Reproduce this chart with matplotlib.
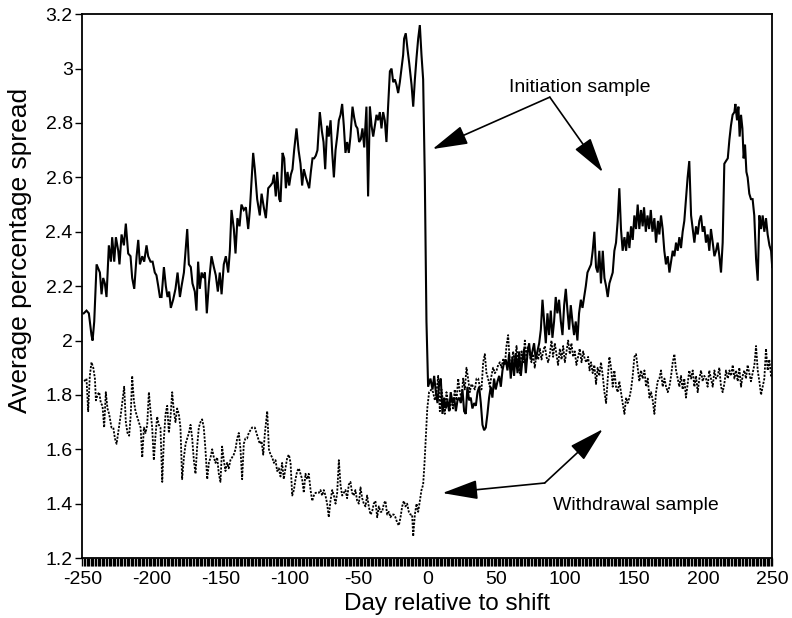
import matplotlib
matplotlib.use("Agg")
import matplotlib.pyplot as plt
from matplotlib.patches import FancyArrowPatch

# ---------------- data ----------------
init_days = [
    -249.0, -247.0, -245.3, -243.4, -242.6, -241.4, -239.7, -237.3, -236.1, -234.9,
    -233.7, -232.5, -230.8, -229.3, -228.4, -226.9, -225.7, -224.0, -223.1, -221.6,
    -219.9, -218.5, -216.8, -215.1, -213.9, -212.4, -210.7, -209.5, -208.3, -206.6,
    -205.2, -203.5, -202.3, -200.6, -199.1, -197.5, -196.3, -195.0, -193.8, -192.6,
    -190.9, -189.5, -188.3, -187.1, -185.9, -184.2, -182.5, -181.0, -179.3, -178.1,
    -176.4, -175.2, -174.0, -172.8, -171.4, -170.2, -168.5, -167.3, -166.1, -164.9,
    -163.6, -162.2, -161.2, -159.8, -158.3, -156.4, -154.7, -153.3, -151.8, -150.4,
    -149.1, -147.5, -146.0, -144.3, -143.1, -141.9, -140.2, -139.0, -137.6, -136.1,
    -134.7, -133.0, -131.5, -129.8, -128.6,
    -126.2, -125.0, -123.3, -121.4, -120.1, -118.5, -117.0, -115.3, -113.6, -112.2,
    -111.2, -109.8, -108.8, -107.3, -106.4, -104.9, -103.7, -102.5, -101.3, -100.1,
    -98.9, -97.7, -96.5, -94.8, -93.3, -91.9, -90.7, -89.5, -88.0, -86.8,
    -85.6, -84.4, -83.2, -82.0, -80.8, -79.6, -77.9, -76.4, -75.2, -74.0,
    -72.6, -71.4, -70.1, -68.9, -67.7, -66.5, -65.3, -64.1, -62.9, -61.7,
    -60.5, -59.3, -58.1, -56.9, -55.7, -54.2, -53.0, -51.8, -50.6, -49.4,
    -48.2, -47.0, -45.7, -44.1, -42.9, -41.6, -40.4, -39.2, -38.0, -36.8,
    -35.6, -34.4, -33.2, -32.0, -30.8, -29.6, -28.4, -27.1, -25.9, -24.7,
    -23.5, -22.3, -21.1, -19.9, -18.7, -17.5, -16.8, -15.6, -14.3, -13.1,
    -11.4, -10.2, -9.0, -7.8, -6.6, -5.4, -4.2, -3.0, -1.8, -0.6, 0.6,
    2.3, 3.8, 5.0, 6.2, 7.4, 8.6, 9.8, 11.0, 12.2, 13.4,
    14.6, 15.8, 17.0, 18.3, 19.5, 20.7, 21.9, 23.1, 24.3, 25.5,
    26.7, 27.9, 29.1, 30.3, 31.5, 32.7, 34.0, 35.2, 36.4, 37.6,
    38.8, 40.0, 41.2, 42.4, 43.6, 44.8, 46.0, 47.2, 48.4, 49.6,
    50.9, 52.1, 53.3, 54.5, 55.7, 56.9, 58.1, 59.3, 60.5, 61.7,
    62.9, 64.1, 65.4, 66.6, 67.8, 69.0, 70.2, 71.4, 72.6, 73.8,
    75.0, 76.2, 77.4, 78.6, 79.8, 81.1, 82.3, 83.5, 84.7, 85.9,
    87.1, 88.3, 89.5, 90.7, 91.9, 93.1, 94.3, 95.5, 96.8, 98.0,
    99.2, 100.4, 101.6, 102.8, 104.0, 105.2, 106.4, 107.6, 108.8, 110.0,
    111.3, 112.5, 113.7, 114.9, 116.1,
    118.7, 119.9, 121.1, 122.3, 123.5, 124.7, 125.9, 127.2, 128.4, 129.6,
    130.8, 132.0, 133.2, 134.4, 135.6, 136.8, 138.0, 139.2, 140.4, 141.6,
    142.9, 144.1, 145.3, 146.5, 147.7, 148.9, 150.1, 151.3, 152.5, 153.7,
    154.9, 156.1, 157.1, 158.4, 159.6, 160.8, 162.0, 163.2, 164.6, 165.8,
    167.2, 168.2, 169.4, 170.6, 171.8, 173.0, 174.3, 175.5, 176.7, 177.9,
    179.1, 180.3, 181.5, 182.7, 183.9, 185.1, 186.3, 187.5, 188.7, 189.9,
    191.2, 192.4, 193.6, 194.8, 196.0, 197.2, 198.4, 199.6, 200.8, 202.0,
    203.2, 204.4, 205.6, 206.9, 208.1, 209.3, 210.5, 211.7, 212.9, 214.1,
    215.3, 216.5, 217.8, 219.0, 220.1, 221.3, 222.6, 223.3, 224.5, 225.5,
    226.4, 227.4, 228.4, 229.3, 230.3, 231.3, 232.2, 233.4, 234.6, 235.8,
    237.0, 238.3, 239.5, 240.7, 241.9, 243.1, 244.3, 245.5, 246.7, 248.0,
    249.2, 250.0,
]
init_vals = [
    2.10, 2.11, 2.10, 2.02, 2.00, 2.07, 2.28, 2.25, 2.17, 2.23,
    2.21, 2.16, 2.35, 2.29, 2.38, 2.29, 2.38, 2.33, 2.28, 2.39,
    2.35, 2.43, 2.32, 2.31, 2.23, 2.19, 2.31, 2.37, 2.28, 2.31,
    2.29, 2.35, 2.31, 2.29, 2.29, 2.25, 2.24, 2.20, 2.16, 2.16,
    2.27, 2.20, 2.16, 2.18, 2.12, 2.15, 2.19, 2.25, 2.16, 2.20,
    2.25, 2.33, 2.41, 2.28, 2.27, 2.21, 2.18, 2.11, 2.29, 2.19,
    2.25, 2.23, 2.25, 2.10, 2.21, 2.31, 2.27, 2.24, 2.18, 2.25,
    2.17, 2.28, 2.31, 2.25, 2.33, 2.48, 2.41, 2.32, 2.45, 2.42,
    2.50, 2.48, 2.49, 2.41, 2.48,
    2.69, 2.63, 2.52, 2.46, 2.54, 2.49, 2.45, 2.56, 2.57, 2.58,
    2.61, 2.53, 2.62, 2.52, 2.51, 2.69, 2.67, 2.56, 2.62, 2.57,
    2.61, 2.63, 2.70, 2.78, 2.70, 2.65, 2.57, 2.63, 2.60, 2.58,
    2.56, 2.62, 2.67, 2.67, 2.68, 2.70, 2.84, 2.77, 2.73, 2.63,
    2.79, 2.75, 2.81, 2.69, 2.60, 2.70, 2.75, 2.81, 2.83, 2.87,
    2.79, 2.69, 2.73, 2.69, 2.75, 2.86, 2.82, 2.79, 2.78, 2.73,
    2.74, 2.78, 2.71, 2.86, 2.53, 2.86, 2.79, 2.75, 2.79, 2.83,
    2.81, 2.84, 2.78, 2.84, 2.81, 2.73, 2.86, 2.99, 3.00, 2.95,
    2.96, 2.94, 2.91, 2.95, 3.00, 3.05, 3.11, 3.13, 3.07, 3.02,
    2.94, 2.86, 2.96, 3.04, 3.11, 3.16, 3.05, 2.96, 2.60, 2.07, 1.83,
    1.86, 1.82, 1.87, 1.81, 1.77, 1.84, 1.86, 1.73, 1.79, 1.75,
    1.78, 1.74, 1.81, 1.77, 1.79, 1.74, 1.78, 1.79, 1.77, 1.82,
    1.74, 1.73, 1.83, 1.78, 1.79, 1.75, 1.77, 1.76, 1.81, 1.83,
    1.77, 1.69, 1.67, 1.68, 1.73, 1.79, 1.83, 1.79, 1.86, 1.82,
    1.85, 1.87, 1.83, 1.89, 1.92, 1.93, 1.89, 1.95, 1.86, 1.94,
    1.87, 1.95, 1.88, 1.96, 1.87, 1.93, 1.97, 1.88, 1.95, 1.99,
    1.93, 1.96, 1.99, 1.93, 1.96, 1.99, 2.04, 2.15, 2.07, 1.99,
    2.10, 2.02, 2.11, 2.01, 2.07, 2.16, 2.10, 2.15, 2.07, 2.02,
    2.13, 2.19, 2.11, 2.04, 2.13, 2.07, 2.02, 2.07, 2.00, 2.10,
    2.15, 2.12, 2.16, 2.20, 2.25,
    2.28, 2.33, 2.40, 2.27, 2.25, 2.33, 2.21, 2.33, 2.23, 2.20,
    2.16, 2.21, 2.23, 2.25, 2.33, 2.36, 2.44, 2.56, 2.41, 2.33,
    2.38, 2.33, 2.40, 2.34, 2.42, 2.37, 2.46, 2.41, 2.50, 2.41,
    2.48, 2.42, 2.49, 2.40, 2.46, 2.41, 2.48, 2.40, 2.45, 2.36,
    2.44, 2.39, 2.46, 2.41, 2.33, 2.28, 2.31, 2.25, 2.29, 2.33,
    2.31, 2.36, 2.33, 2.38, 2.34, 2.40, 2.44, 2.52, 2.60, 2.66,
    2.46, 2.41, 2.36, 2.42, 2.39, 2.44, 2.46, 2.40, 2.42, 2.36,
    2.39, 2.33, 2.41, 2.36, 2.31, 2.33, 2.36, 2.31, 2.25, 2.36,
    2.65, 2.66, 2.67, 2.74, 2.79, 2.83, 2.84, 2.87, 2.81, 2.86,
    2.75, 2.83, 2.78, 2.67, 2.72, 2.62, 2.60, 2.54, 2.52, 2.52,
    2.46, 2.30, 2.22, 2.46, 2.41, 2.46, 2.40, 2.45, 2.39, 2.35,
    2.33, 2.27,
]

withd_days = [
    -248.7, -247.0, -245.8, -244.6, -243.4, -242.1, -240.9, -240.2, -239.0, -237.8,
    -236.6, -235.4, -234.2, -233.0, -231.8, -230.6, -228.9, -227.6, -226.4, -225.2,
    -223.5, -222.1, -220.9, -219.7, -218.5, -217.3, -216.1, -214.9, -213.9, -212.7,
    -211.5, -210.3, -209.1, -207.8, -206.6, -205.4, -204.2, -203.0, -201.8, -200.6,
    -199.4, -198.2, -197.0, -195.8, -194.6, -193.4, -192.1, -190.9, -189.7, -188.5,
    -187.3, -186.1, -184.9, -183.7, -182.5, -181.3, -180.1, -178.9, -177.7, -176.4,
    -175.2, -174.0, -172.8, -171.6, -170.4, -169.2, -168.0, -166.8, -165.6, -164.4,
    -163.2, -162.0, -160.8, -159.5, -158.3, -157.1, -155.9, -154.7, -153.5, -152.3,
    -151.1, -149.9, -148.7, -147.5, -146.3, -145.1, -143.9, -142.7, -141.5, -140.3,
    -139.0, -137.8, -136.6, -135.4, -134.2, -133.0, -131.8, -130.6, -129.4, -128.2,
    -127.0,
    -125.0, -123.8, -122.6, -121.4, -120.1, -118.9, -117.7, -116.0, -114.8, -113.6,
    -112.4, -111.2, -110.0, -108.8, -107.6, -106.4, -105.2, -104.0, -102.8, -101.5,
    -100.3, -99.1, -97.9, -96.7, -95.5, -94.3, -93.1, -91.9, -90.7, -89.5,
    -88.3, -87.1, -85.9, -84.6, -83.4, -82.2, -81.0, -79.8, -78.6, -77.4,
    -76.2, -75.0, -73.8, -72.6, -71.4, -70.2, -68.9, -67.7, -66.5, -65.3,
    -64.1, -62.9, -61.7, -60.5, -59.3, -58.1, -56.9, -55.7, -54.5, -53.3,
    -52.1, -50.8, -49.6, -48.4, -47.2, -46.0, -44.8, -43.6, -42.4, -41.2,
    -40.0, -38.8, -37.6, -36.3, -35.1, -33.9, -32.7, -31.5, -30.3, -29.1,
    -27.9, -26.7, -25.5, -24.3, -23.1, -21.8, -20.6, -19.4, -18.2, -17.0,
    -15.8, -14.6, -13.4, -12.2, -11.0, -10.2, -9.0, -7.8, -6.6, -5.4,
    -4.2, -3.0, -2.0, -1.0, 0.0,
    1.3, 3.0, 4.2, 5.5, 6.7, 7.9, 9.1, 10.3, 11.5, 12.7,
    13.9, 15.1, 16.3, 17.5, 18.7, 19.9, 21.2, 22.4, 23.6, 24.8,
    26.0, 27.2, 28.4, 29.6, 30.8, 32.0, 33.3, 34.5, 35.7, 36.9,
    38.1, 39.3, 40.5, 41.7, 42.9, 44.1, 45.3, 46.5, 47.7, 49.0,
    50.2, 51.4, 52.6, 53.8, 55.0, 56.2, 57.4, 58.6, 59.8, 61.0,
    62.2, 63.4, 64.7, 65.9, 67.1, 68.3, 69.5, 70.7, 71.9, 73.1,
    74.3, 75.5, 76.7, 77.9, 79.1, 80.4, 81.6, 82.8, 84.0, 85.2,
    86.4, 87.6, 88.8, 90.0, 91.2, 92.4, 93.6, 94.8, 96.1, 97.3,
    98.5, 99.7, 100.9, 102.1, 103.3, 104.5, 105.7, 106.9, 108.1, 109.3,
    110.5, 111.8, 113.0, 114.2, 115.4, 116.6, 117.6,
    118.7, 119.9, 121.1, 122.3, 123.5, 124.7, 125.9, 127.2, 128.4, 129.6,
    130.8, 132.0, 133.2, 134.4, 135.6, 136.8, 138.0, 139.2, 140.4, 141.6,
    142.9, 144.1, 145.3, 146.5, 147.7, 148.9, 150.1, 151.3, 152.5, 153.7,
    154.9, 156.1, 157.4, 158.6, 159.8, 161.0, 162.2, 163.4, 164.6, 165.8,
    167.0, 168.2, 169.4, 170.6, 171.9, 173.1, 174.3, 175.5, 176.7, 177.9,
    179.1, 180.3, 181.5, 182.7, 183.9, 185.1, 186.3, 187.5, 188.7, 189.9,
    191.2, 192.4, 193.6, 194.8, 196.0, 197.2, 198.4, 199.6, 200.8, 202.0,
    203.2, 204.4, 205.6, 206.9, 208.1, 209.3, 210.5, 211.7, 212.9, 214.1,
    215.3, 216.5, 217.8, 219.0, 220.2, 221.4, 222.6, 223.8, 225.0, 226.2,
    227.4, 228.6, 229.8, 231.0, 232.2, 233.4, 234.6, 235.8, 237.1, 238.3,
    239.5, 240.7, 241.9, 243.1, 244.3, 245.5, 246.7, 247.9, 249.2, 250.0,
]
withd_vals = [
    1.85, 1.86, 1.74, 1.87, 1.92, 1.90, 1.86, 1.78, 1.80, 1.81,
    1.77, 1.76, 1.68, 1.81, 1.75, 1.73, 1.68, 1.68, 1.64, 1.62,
    1.68, 1.73, 1.78, 1.83, 1.70, 1.66, 1.65, 1.73, 1.87, 1.78,
    1.74, 1.72, 1.70, 1.68, 1.57, 1.68, 1.66, 1.69, 1.81, 1.74,
    1.68, 1.56, 1.65, 1.72, 1.69, 1.68, 1.48, 1.64, 1.73, 1.76,
    1.66, 1.72, 1.81, 1.74, 1.70, 1.75, 1.73, 1.68, 1.49, 1.57,
    1.62, 1.64, 1.66, 1.69, 1.64, 1.56, 1.51, 1.61, 1.68, 1.70,
    1.71, 1.68, 1.60, 1.49, 1.55, 1.57, 1.60, 1.57, 1.55, 1.57,
    1.51, 1.48, 1.61, 1.56, 1.52, 1.55, 1.53, 1.56, 1.57, 1.58,
    1.60, 1.64, 1.66, 1.60, 1.49, 1.62, 1.64, 1.64, 1.66, 1.67,
    1.68,
    1.68, 1.66, 1.64, 1.62, 1.63, 1.58, 1.66, 1.74, 1.60, 1.58,
    1.57, 1.55, 1.56, 1.52, 1.53, 1.50, 1.55, 1.49, 1.53, 1.57,
    1.58, 1.55, 1.43, 1.45, 1.49, 1.52, 1.53, 1.51, 1.49, 1.44,
    1.51, 1.49, 1.51, 1.45, 1.41, 1.43, 1.44, 1.44, 1.44, 1.45,
    1.43, 1.45, 1.43, 1.40, 1.35, 1.41, 1.45, 1.43, 1.40, 1.44,
    1.56, 1.47, 1.43, 1.44, 1.45, 1.42, 1.47, 1.48, 1.44, 1.43,
    1.45, 1.41, 1.40, 1.46, 1.42, 1.40, 1.39, 1.43, 1.39, 1.36,
    1.37, 1.40, 1.41, 1.35, 1.39, 1.37, 1.37, 1.40, 1.41, 1.36,
    1.37, 1.35, 1.36, 1.36, 1.35, 1.33, 1.32, 1.35, 1.39, 1.41,
    1.39, 1.40, 1.37, 1.36, 1.36, 1.28, 1.36, 1.40, 1.37, 1.41,
    1.45, 1.47, 1.55, 1.65, 1.75,
    1.81, 1.82, 1.81, 1.78, 1.81, 1.87, 1.74, 1.82, 1.77, 1.73,
    1.81, 1.77, 1.74, 1.79, 1.75, 1.82, 1.78, 1.86, 1.81, 1.79,
    1.86, 1.82, 1.90, 1.86, 1.81, 1.84, 1.83, 1.82, 1.86, 1.86,
    1.83, 1.82, 1.92, 1.95, 1.88, 1.86, 1.83, 1.87, 1.90, 1.88,
    1.89, 1.91, 1.92, 1.90, 1.93, 1.91, 1.98, 2.02, 1.92, 1.90,
    1.96, 1.92, 1.98, 1.90, 1.88, 1.96, 1.92, 2.00, 1.94, 1.98,
    1.95, 1.92, 1.95, 1.90, 1.95, 1.93, 1.97, 1.93, 1.96, 1.98,
    1.94, 1.92, 1.95, 2.00, 1.94, 1.99, 1.95, 1.91, 1.97, 1.93,
    1.98, 1.92, 1.96, 2.00, 1.95, 1.99, 1.94, 1.96, 1.91, 1.94,
    1.97, 1.92, 1.96, 1.93, 1.92, 1.94, 1.89,
    1.92, 1.88, 1.91, 1.84, 1.90, 1.87, 1.92, 1.87, 1.81, 1.77,
    1.86, 1.94, 1.90, 1.83, 1.89, 1.83, 1.81, 1.85, 1.81, 1.77,
    1.73, 1.79, 1.77, 1.79, 1.82, 1.87, 1.94, 1.95, 1.90, 1.85,
    1.89, 1.86, 1.89, 1.83, 1.86, 1.79, 1.81, 1.78, 1.73, 1.81,
    1.85, 1.86, 1.89, 1.83, 1.86, 1.83, 1.81, 1.83, 1.87, 1.92,
    1.95, 1.89, 1.86, 1.83, 1.87, 1.82, 1.86, 1.79, 1.84, 1.89,
    1.86, 1.89, 1.83, 1.87, 1.81, 1.86, 1.89, 1.85, 1.87, 1.86,
    1.83, 1.89, 1.86, 1.83, 1.89, 1.86, 1.87, 1.90, 1.83, 1.81,
    1.84, 1.89, 1.86, 1.89, 1.87, 1.91, 1.86, 1.89, 1.85, 1.90,
    1.83, 1.87, 1.89, 1.86, 1.91, 1.88, 1.85, 1.88, 1.91, 1.98,
    1.89, 1.85, 1.80, 1.83, 1.86, 1.97, 1.89, 1.93, 1.87, 1.88,
]

ytick_vals = [1.2, 1.4, 1.6, 1.8, 2.0, 2.2, 2.4, 2.6, 2.8, 3.0, 3.2]
ytick_labels = ["1.2", "1.4", "1.6", "1.8", "2", "2.2", "2.4", "2.6", "2.8", "3", "3.2"]
xtick_vals = [-250, -200, -150, -100, -50, 0, 50, 100, 150, 200, 250]
xtick_labels = ["-250", "-200", "-150", "-100", "-50", "0", "50", "100", "150", "200", "250"]

label_init = "Initiation sample"
label_withd = "Withdrawal sample"

# ---------------- figure ----------------
plt.rcParams["font.family"] = ["Liberation Sans", "DejaVu Sans"]
fig = plt.figure(figsize=(7.92, 6.18), dpi=100)
ax = fig.add_axes([0.104, 0.097, 0.871, 0.880])

ax.plot(init_days, init_vals, color="black", lw=1.5, solid_joinstyle="miter")
ax.plot(withd_days, withd_vals, color="black", lw=1.3, linestyle=(0, (1.2, 0.8)))

ax.set_xlim(-250, 250)
ax.set_ylim(1.2, 3.2)

ax.set_yticks(ytick_vals)
ax.set_yticklabels(ytick_labels, fontsize=14)
ax.set_xticks(xtick_vals)
ax.set_xticklabels(xtick_labels, fontsize=14)
ax.set_xticks(range(-250, 251), minor=True)
ax.tick_params(axis="y", direction="out", length=5, width=1.0, pad=2)
ax.tick_params(axis="x", which="major", direction="out", length=6, width=1.0, pad=3)
ax.tick_params(axis="x", which="minor", direction="out", length=6, width=0.95)
for s in ax.spines.values():
    s.set_linewidth(1.3)

ax.set_xlabel("Day relative to shift", fontsize=17.5)
ax.set_ylabel("Average percentage spread", fontsize=19)
ax.xaxis.set_label_coords(0.528, -0.065)
ax.yaxis.set_label_coords(-0.073, 0.565)

# ---------------- annotations ----------------
def arrow(src, dst):
    p = FancyArrowPatch(src, dst, arrowstyle="-|>,head_length=1.1,head_width=0.3",
                        mutation_scale=20, color="black", lw=1.2,
                        shrinkA=0, shrinkB=0)
    ax.add_patch(p)

ax.text(110.5, 2.93, label_init, fontsize=14, ha="center", va="center")
arrow((88.8, 2.895), (3.8, 2.704))
arrow((88.8, 2.895), (127.2, 2.619))

ax.text(151.1, 1.395, label_withd, fontsize=14, ha="center", va="center")
arrow((85.1, 1.476), (11.0, 1.439))
arrow((85.1, 1.476), (127.2, 1.674))

fig.savefig("out.png", dpi=100)
